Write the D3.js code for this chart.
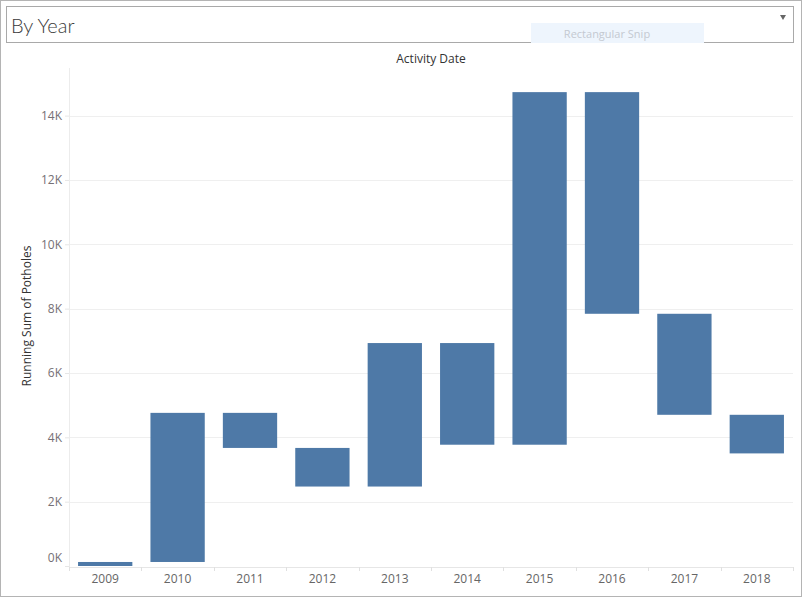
<!DOCTYPE html>
<html>
<head>
<meta charset="utf-8">
<script src="https://cdn.jsdelivr.net/npm/d3@7"></script>
<style>
  body { margin: 0; background: #fff; }
  svg { display: block; font-family: "Open Sans", sans-serif; }
</style>
</head>
<body>
<script>
// running sum of potholes at end of each year
var years = ["2009", "2010", "2011", "2012", "2013", "2014", "2015", "2016", "2017", "2018"];
var runningSum = [125, 4760, 3670, 2470, 6930, 3770, 14730, 7840, 4700, 3500];
var tickValues = [0, 2000, 4000, 6000, 8000, 10000, 12000, 14000];

var width = 804, height = 598;

var svg = d3.select("body").append("svg")
    .attr("width", width)
    .attr("height", height);

// outer frame
svg.append("rect")
    .attr("x", 0.5).attr("y", 0.5)
    .attr("width", 801).attr("height", 596)
    .attr("fill", "#fff").attr("stroke", "#b4b4b4");

// "By Year" dropdown
svg.append("rect")
    .attr("x", 6.5).attr("y", 6.5)
    .attr("width", 787).attr("height", 36)
    .attr("fill", "#fff").attr("stroke", "#a9a9a9");
svg.append("text")
    .attr("x", 11).attr("y", 33)
    .attr("font-family", "Lato, sans-serif")
    .attr("font-weight", 300)
    .attr("font-size", 20)
    .attr("fill", "#3a3a3a")
    .text("By Year");
svg.append("path")
    .attr("d", "M780,15 L786,15 L783,20 Z")
    .attr("fill", "#666");

// snip overlay
svg.append("rect")
    .attr("x", 531).attr("y", 23)
    .attr("width", 173).attr("height", 20)
    .attr("fill", "#eef5fd");
svg.append("text")
    .attr("x", 607).attr("y", 38)
    .attr("text-anchor", "middle")
    .attr("font-size", 11)
    .attr("fill", "#c4c9d1")
    .text("Rectangular Snip");

// plot pane (note: "top" is a reserved window global, so use other names)
var paneL = 69, paneR = 793, paneT = 68, paneB = 566;

var x = d3.scaleBand()
    .domain(years)
    .range([paneL, paneR])
    .paddingInner(0.25)
    .paddingOuter(0.125);

var y = d3.scaleLinear()
    .domain([0, 15480])
    .range([paneB, paneT]);

// gridlines
svg.append("g")
    .selectAll("line")
    .data(tickValues.filter(d => d > 0))
    .enter().append("line")
    .attr("x1", paneL).attr("x2", paneR)
    .attr("y1", d => Math.round(y(d)) + 0.5)
    .attr("y2", d => Math.round(y(d)) + 0.5)
    .attr("stroke", "#efefef");

// y axis line
svg.append("line")
    .attr("x1", paneL + 0.5).attr("x2", paneL + 0.5)
    .attr("y1", paneT).attr("y2", paneB + 1)
    .attr("stroke", "#ececec");

// y axis labels
var yAxis = svg.append("g")
    .attr("transform", "translate(" + paneL + ",0)")
    .call(d3.axisLeft(y).tickValues(tickValues).tickSize(4).tickFormat(d => d / 1000 + "K"));
yAxis.select(".domain").remove();
yAxis.selectAll(".tick line").attr("stroke", "#e6e6e6");
yAxis.selectAll(".tick text")
    .attr("font-family", "Open Sans, sans-serif")
    .attr("font-size", 12)
    .attr("fill", "#757075")
    .attr("x", -7);
// keep bottom label inside the pane, as the original does
yAxis.selectAll(".tick text").filter(d => d === 0).attr("dy", "-0.4em");

// x axis baseline and band separators
svg.append("line")
    .attr("x1", paneL).attr("x2", paneR)
    .attr("y1", paneB + 1.5).attr("y2", paneB + 1.5)
    .attr("stroke", "#e6e6e6");
svg.append("g")
    .selectAll("line")
    .data(years.concat(["end"]))
    .enter().append("line")
    .attr("x1", (d, i) => Math.round(paneL + i * x.step()) + 0.5)
    .attr("x2", (d, i) => Math.round(paneL + i * x.step()) + 0.5)
    .attr("y1", paneB + 1).attr("y2", paneB + 5)
    .attr("stroke", "#e0e0e0");

svg.append("g")
    .selectAll("text")
    .data(years)
    .enter().append("text")
    .attr("x", d => x(d) + x.bandwidth() / 2)
    .attr("y", 583)
    .attr("text-anchor", "middle")
    .attr("font-size", 12)
    .attr("fill", "#666")
    .text(d => d);

// bars: from previous running total to current
svg.append("g")
    .selectAll("rect")
    .data(runningSum)
    .enter().append("rect")
    .attr("x", (d, i) => x(years[i]))
    .attr("width", x.bandwidth())
    .attr("y", (d, i) => y(Math.max(d, i ? runningSum[i - 1] : 0)))
    .attr("height", (d, i) => Math.abs(y(d) - y(i ? runningSum[i - 1] : 0)))
    .attr("fill", "#4e79a7");

// titles
svg.append("text")
    .attr("x", 431).attr("y", 63)
    .attr("text-anchor", "middle")
    .attr("font-size", 12)
    .attr("fill", "#333")
    .text("Activity Date");

svg.append("text")
    .attr("transform", "translate(31,316) rotate(-90)")
    .attr("text-anchor", "middle")
    .attr("font-size", 12)
    .attr("fill", "#333")
    .text("Running Sum of Potholes");
</script>
</body>
</html>
